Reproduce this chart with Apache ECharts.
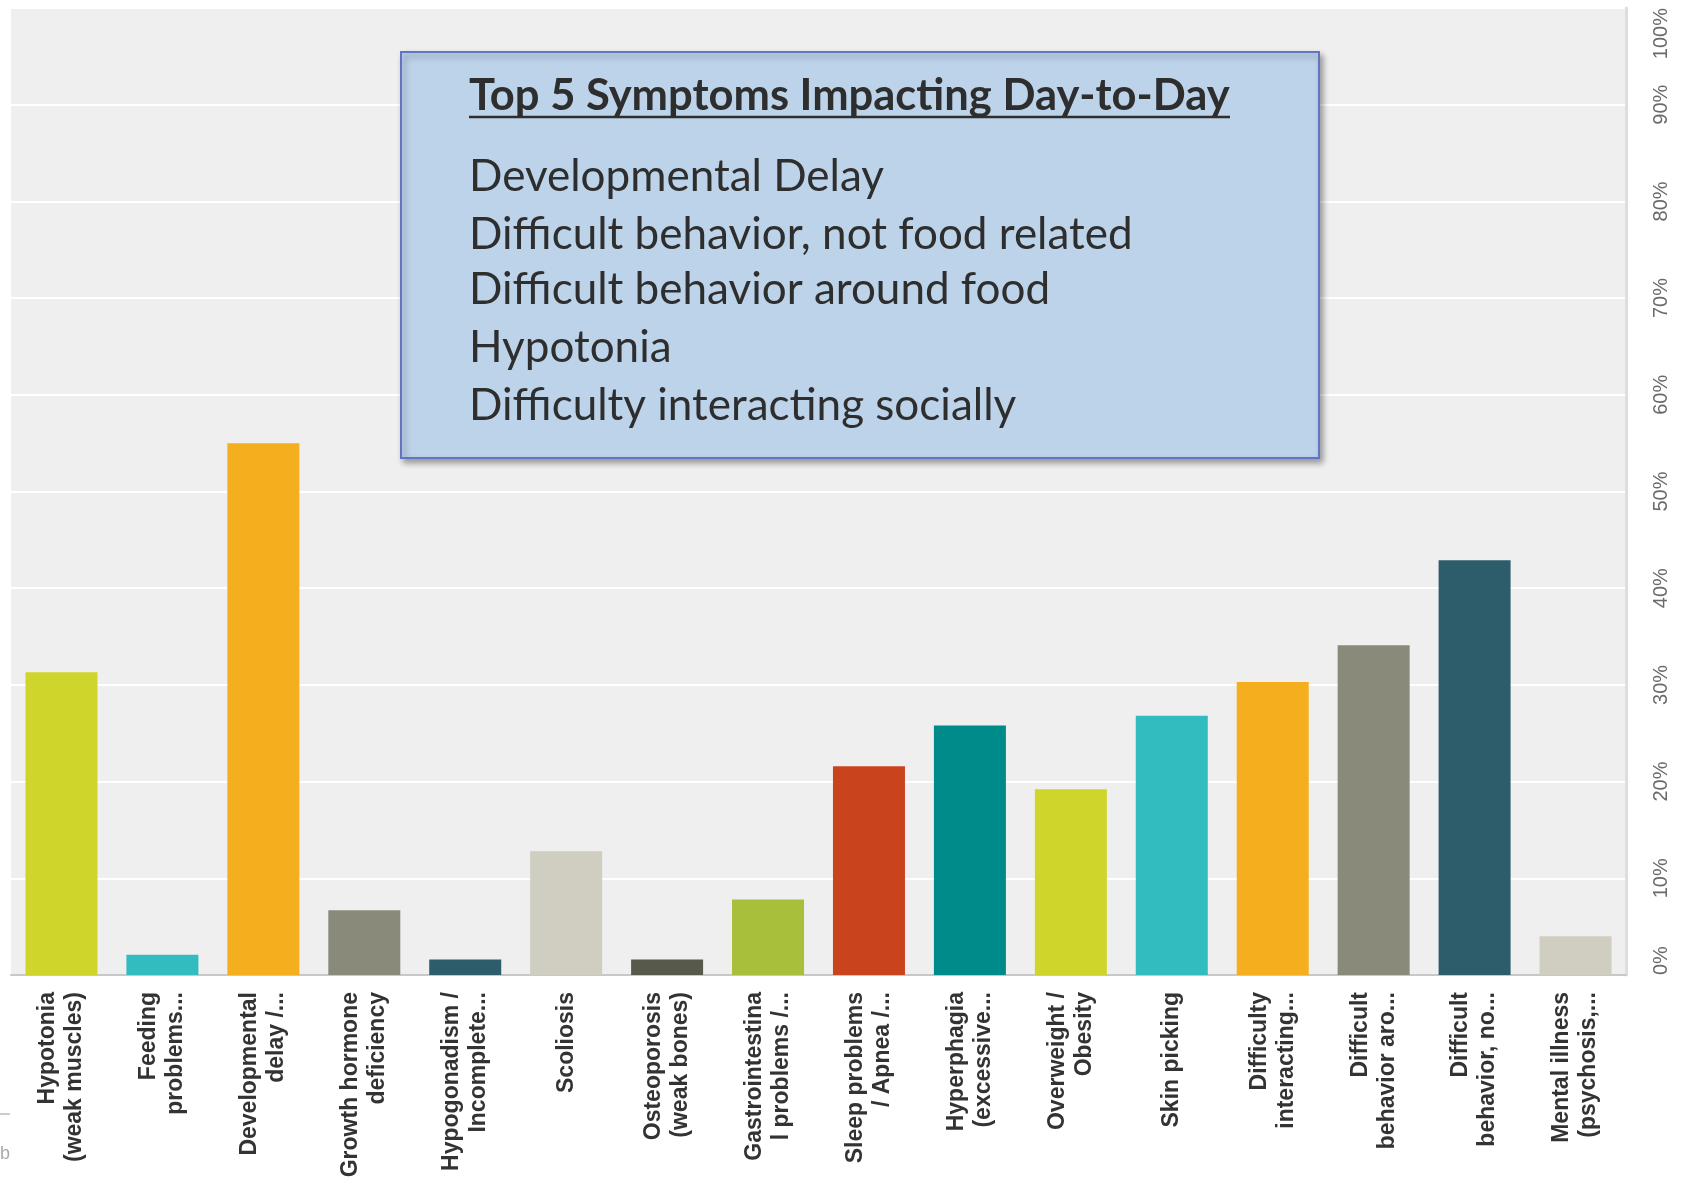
<!DOCTYPE html>
<html>
<head>
<meta charset="utf-8">
<script src="https://cdn.jsdelivr.net/npm/echarts@6/dist/echarts.min.js"></script>
<style>
html,body{margin:0;padding:0;background:#fff;}
#chart{width:1683px;height:1184px;}
</style>
</head>
<body>
<div id="chart"></div>
<script>
// symptom categories (labels as shown, wrapped)
var categories = [
	'Hypotonia\n(weak muscles)',
	'Feeding\nproblems...',
	'Developmental\ndelay /...',
	'Growth hormone\ndeficiency',
	'Hypogonadism /\nIncomplete...',
	'Scoliosis',
	'Osteoporosis\n(weak bones)',
	'Gastrointestina\nl problems /...',
	'Sleep problems\n/ Apnea /...',
	'Hyperphagia\n(excessive...',
	'Overweight /\nObesity',
	'Skin picking',
	'Difficulty\ninteracting...',
	'Difficult\nbehavior aro...',
	'Difficult\nbehavior, no...',
	'Mental illness\n(psychosis,...'
];
// percent of respondents
var values = [31.3, 2.1, 55.0, 6.7, 1.6, 12.8, 1.6, 7.8, 21.6, 25.8, 19.2, 26.8, 30.3, 34.1, 42.9, 4.0];
var barColors = ['#cfd52a','#33bcbf','#f5ae1e','#8a8a7a','#2d5d6a','#cfcec0','#575a4a','#a7bf3a','#c9441c','#008b8b',
	'#cfd52a','#33bcbf','#f5ae1e','#8a8a7a','#2d5d6a','#cfcec0'];
var boxTitle = 'Top 5 Symptoms Impacting Day-to-Day';
var topFive = [
	'Developmental Delay',
	'Difficult behavior, not food related',
	'Difficult behavior around food',
	'Hypotonia',
	'Difficulty interacting socially'
];

var myChart = echarts.init(document.getElementById('chart'));

var seriesData = [];
for(var i=0;i<values.length;i++){
	seriesData.push({
		value:values[i],
		itemStyle:{color:barColors[i]}
	});
}

var graphics = [
	{
		type:'rect',
		shape:{x:401,y:52,width:918,height:406},
		style:{
			fill:'#bcd3e9',
			stroke:'#6373c6',
			lineWidth:2,
			shadowBlur:6,
			shadowOffsetX:3,
			shadowOffsetY:4,
			shadowColor:'rgba(0,0,0,0.35)'
		},
		z:10
	},
	{
		type:'text',
		left:469,
		top:74,
		style:{
			text:boxTitle,
			font:'bold 43.5px Lato',
			fill:'#2e2e2e'
		},
		z:11
	},
	{
		type:'line',
		shape:{x1:469,y1:117,x2:1230,y2:117},
		style:{stroke:'#2e2e2e',lineWidth:2.5},
		z:11
	},
	{
		type:'text',
		left:0,
		top:1145,
		style:{text:'b',font:'18px "Liberation Sans"',fill:'#aaa'},
		z:11
	},
	{
		type:'line',
		shape:{x1:0,y1:1114,x2:10,y2:1114},
		style:{stroke:'#ccc',lineWidth:2},
		z:11
	}
];
var lineTops = [155, 213, 268, 326, 384];
for(var j=0;j<topFive.length;j++){
	graphics.push({
		type:'text',
		left:469,
		top:lineTops[j],
		style:{
			text:topFive[j],
			font:'44px Lato',
			fill:'#2e2e2e'
		},
		z:11
	});
}

var option = {
	animation:false,
	backgroundColor:'#ffffff',
	grid:{
		left:11,
		right:57,
		top:8,
		bottom:209,
		show:true,
		backgroundColor:'#efefef',
		borderWidth:0
	},
	xAxis:{
		type:'category',
		data:categories,
		axisTick:{show:false},
		axisLine:{lineStyle:{color:'#c8c8c8',width:2}},
		axisLabel:{
			interval:0,
			rotate:90,
			margin:17,
			color:'#333',
			fontFamily:'Liberation Sans',
			fontWeight:'bold',
			fontSize:23,
			lineHeight:27
		}
	},
	yAxis:{
		type:'value',
		position:'right',
		min:0,
		max:100,
		interval:10,
		axisLine:{show:true,lineStyle:{color:'#dedede',width:3}},
		axisTick:{show:false},
		splitLine:{lineStyle:{color:'#ffffff',width:2}},
		axisLabel:{
			rotate:90,
			margin:25,
			color:'#6a6a6a',
			fontFamily:'Liberation Sans',
			fontSize:20,
			formatter:'{value}%',
			align:'center',
			alignMinLabel:'left',
			alignMaxLabel:'right'
		}
	},
	series:[
		{
			type:'bar',
			barWidth:72,
			data:seriesData
		}
	],
	graphic:graphics
};
myChart.setOption(option);
</script>
</body>
</html>
